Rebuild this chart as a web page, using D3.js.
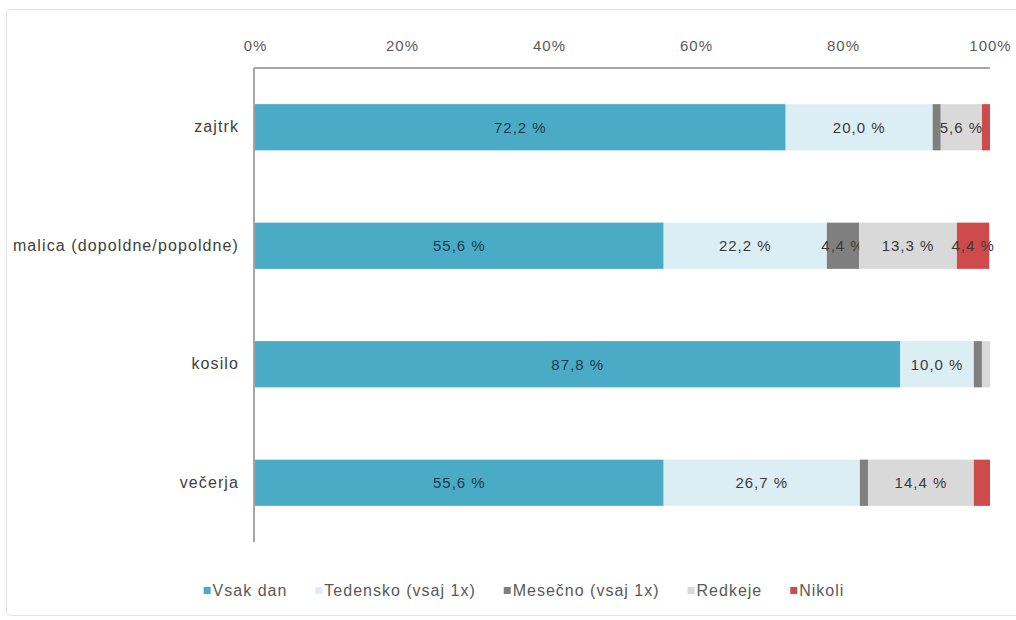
<!DOCTYPE html>
<html>
<head>
<meta charset="utf-8">
<script src="https://cdn.jsdelivr.net/npm/d3@7"></script>
<style>
  body { margin: 0; background: #fff; }
  text { font-family: "Liberation Sans", Arial, sans-serif; }
</style>
</head>
<body>
<div id="chart"></div>
<script>
// categories and series
const categories = ["zajtrk", "malica (dopoldne/popoldne)", "kosilo", "večerja"];
const seriesNames = ["Vsak dan", "Tedensko (vsaj 1x)", "Mesečno (vsaj 1x)", "Redkeje", "Nikoli"];
const vsakDan = [72.2, 55.6, 87.8, 55.6];
const tedensko = [20.0, 22.2, 10.0, 26.7];
const mesecno = [1.1, 4.4, 1.1, 1.1];
const redkeje = [5.6, 13.3, 1.1, 14.4];
const nikoli = [1.1, 4.4, 0, 2.2];
const tickValues = [0, 20, 40, 60, 80, 100];
const colors = ["#4aabc6", "#dbeef4", "#7f7f7f", "#d9d9d9", "#cf4a4a"];

const width = 1016, height = 620;
const margin = { top: 68, right: 26, bottom: 78, left: 255 };
const innerWidth = width - margin.left - margin.right;
const innerHeight = height - margin.top - margin.bottom;

const svg = d3.select("#chart")
    .append("svg")
    .attr("width", width)
    .attr("height", height);

// faint outer frame
svg.append("rect")
    .attr("x", 6.5).attr("y", 9.5)
    .attr("width", 1030).attr("height", 606)
    .attr("rx", 4)
    .attr("fill", "none")
    .attr("stroke", "#e3e3e3");

const g = svg.append("g")
    .attr("transform", `translate(${margin.left},${margin.top})`);

// build rows for stacking
const seriesValues = [vsakDan, tedensko, mesecno, redkeje, nikoli];
const rows = categories.map((c, i) => {
    const row = { cat: c };
    seriesNames.forEach((s, j) => row[s] = seriesValues[j][i]);
    return row;
});
const stacked = d3.stack().keys(seriesNames)(rows);

const x = d3.scaleLinear().domain([0, 100]).range([0, innerWidth]);
const y = d3.scaleBand()
    .domain(categories)
    .range([0, innerHeight])
    .paddingInner(0.61)
    .paddingOuter(0.305);

// bars
const layers = g.selectAll("g.layer")
    .data(stacked)
    .enter().append("g")
    .attr("class", "layer")
    .attr("fill", (d, i) => colors[i]);

layers.selectAll("rect")
    .data(d => d.map(p => ({ p: p, key: d.key })))
    .enter().append("rect")
    .attr("x", d => x(d.p[0]))
    .attr("y", d => y(d.p.data.cat))
    .attr("width", d => x(d.p[1]) - x(d.p[0]))
    .attr("height", y.bandwidth());

// value labels
const fmt = v => d3.format(".1f")(v).replace(".", ",") + " %";
layers.selectAll("text")
    .data(d => d.map(p => ({ p: p, key: d.key })).filter(d => d.p[1] - d.p[0] >= 3))
    .enter().append("text")
    .attr("x", d => x((d.p[0] + d.p[1]) / 2))
    .attr("y", d => y(d.p.data.cat) + y.bandwidth() / 2)
    .attr("dy", "0.35em")
    .attr("text-anchor", "middle")
    .attr("fill", d => d.key === "Vsak dan" ? "#1d3a4c" : "#3a3a3a")
    .style("font-size", "15px")
    .style("letter-spacing", "1px")
    .text(d => fmt(d.p[1] - d.p[0]));

// top axis
const xAxis = g.append("g")
    .call(d3.axisTop(x).tickValues(tickValues).tickSize(0).tickPadding(17).tickFormat(d => d + "%"));
xAxis.select(".domain").attr("stroke", "#a6a6a6").attr("stroke-width", 2)
    .attr("d", `M-1,0H${x(100)}`);
xAxis.selectAll("text")
    .attr("fill", "#595959")
    .style("font-size", "15px")
    .style("letter-spacing", "1px")
    .style("font-family", "'Liberation Sans', Arial, sans-serif");

// left axis
const yAxis = g.append("g")
    .call(d3.axisLeft(y).tickSize(0).tickPadding(16));
yAxis.select(".domain").attr("stroke", "#a6a6a6").attr("stroke-width", 2)
    .attr("d", `M-1,0V${innerHeight}`);
yAxis.selectAll("text")
    .attr("fill", "#404040")
    .style("font-size", "16px")
    .style("letter-spacing", "1.1px")
    .style("font-family", "'Liberation Sans', Arial, sans-serif");

// legend
const legend = svg.append("g").attr("transform", "translate(0,596)");
let lx = 0;
const items = legend.selectAll("g")
    .data(seriesNames)
    .enter().append("g");
items.append("rect")
    .attr("y", -9)
    .attr("width", 7).attr("height", 7)
    .attr("fill", (d, i) => colors[i]);
items.append("text")
    .attr("x", 9)
    .attr("fill", "#595959")
    .style("font-size", "16px")
    .style("letter-spacing", "1px")
    .text(d => d);
items.each(function () {
    d3.select(this).attr("transform", `translate(${lx},0)`);
    lx += this.getBBox().width + 28;
});
const legendWidth = lx - 28;
legend.attr("transform", `translate(${524 - legendWidth / 2},596)`);
</script>
</body>
</html>
